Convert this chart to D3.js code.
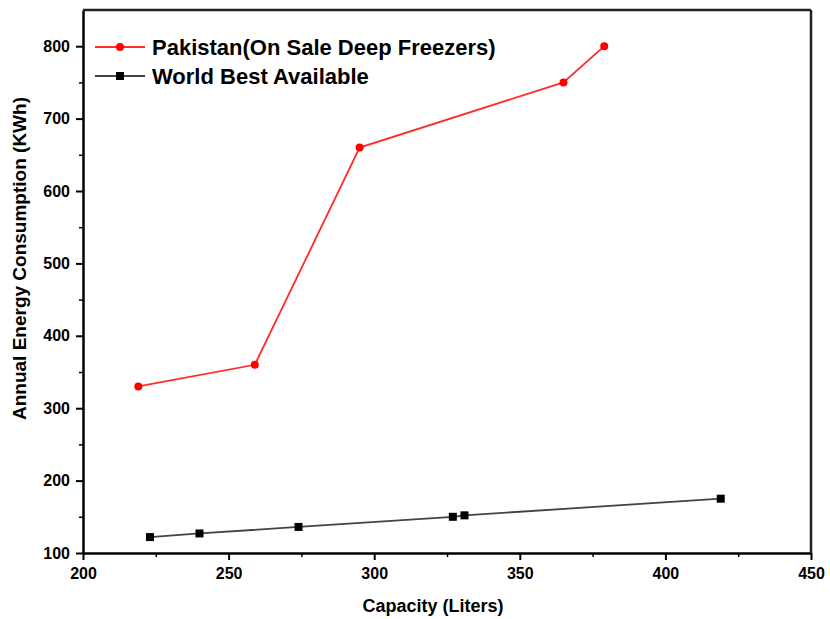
<!DOCTYPE html>
<html>
<head>
<meta charset="utf-8">
<script src="https://cdn.jsdelivr.net/npm/d3@7"></script>
<style>
  body { margin: 0; background: #fff; }
  svg text { font-family: "Liberation Sans", Arial, sans-serif; font-weight: bold; fill: #000; }
</style>
</head>
<body>
<svg id="viz"></svg>
<script>
// data
var pakCapacity = [219, 259, 295, 365, 379];
var pakEnergy = [330, 360, 660, 750, 800];
var bestCapacity = [223, 240, 274, 327, 331, 419];
var bestEnergy = [122, 127, 136, 150, 152, 175];
var seriesNames = ['Pakistan(On Sale Deep Freezers)', 'World Best Available'];
var xTicks = [200, 250, 300, 350, 400, 450];
var yTicks = [100, 200, 300, 400, 500, 600, 700, 800];

var width = 830, height = 619;
var margin = {top: 10, right: 19, bottom: 66, left: 83};
var drawWidth = width - margin.left - margin.right;
var drawHeight = height - margin.top - margin.bottom;

var svg = d3.select('#viz').attr('width', width).attr('height', height);
var g = svg.append('g').attr('transform', `translate(${margin.left}, ${margin.top})`);

var xScale = d3.scaleLinear().domain([200, 450]).range([0, drawWidth]);
var yScale = d3.scaleLinear().domain([100, 850]).range([drawHeight, 0]);

// minor ticks
var xMinor = d3.range(225, 450, 50);
var yMinor = d3.range(150, 850, 100);
g.append('g').attr('transform', `translate(0, ${drawHeight})`)
  .call(d3.axisBottom(xScale).tickValues(xMinor).tickSize(4).tickFormat(''))
  .call(a => a.select('.domain').remove())
  .selectAll('line').attr('stroke-width', 1.5);
g.append('g')
  .call(d3.axisLeft(yScale).tickValues(yMinor).tickSize(4).tickFormat(''))
  .call(a => a.select('.domain').remove())
  .selectAll('line').attr('stroke-width', 1.5);

// major axes
var xAxis = g.append('g').attr('transform', `translate(0, ${drawHeight})`)
  .call(d3.axisBottom(xScale).tickValues(xTicks).tickSize(7).tickSizeOuter(0).tickPadding(8));
var yAxis = g.append('g')
  .call(d3.axisLeft(yScale).tickValues(yTicks).tickSize(7).tickSizeOuter(0).tickPadding(6));
[xAxis, yAxis].forEach(function(a) {
  a.selectAll('text').style('font-size', '16px');
  a.selectAll('line').attr('stroke-width', 2);
  a.select('.domain').attr('stroke-width', 2.5);
});

// top and right frame
g.append('line').attr('x1', 0).attr('x2', drawWidth).attr('y1', 0).attr('y2', 0)
  .attr('stroke', '#222').attr('stroke-width', 2.5);
g.append('line').attr('x1', drawWidth).attr('x2', drawWidth).attr('y1', 0).attr('y2', drawHeight)
  .attr('stroke', '#222').attr('stroke-width', 2.5);

// axis titles
svg.append('text').attr('x', margin.left + drawWidth / 2 - 14).attr('y', 612)
  .attr('text-anchor', 'middle').style('font-size', '18px').text('Capacity (Liters)');
svg.append('text').attr('transform', `translate(26, ${margin.top + drawHeight / 2 - 23}) rotate(-90)`)
  .attr('text-anchor', 'middle').style('font-size', '19px').text('Annual Energy Consumption (KWh)');

var line = d3.line().x(d => xScale(d[0])).y(d => yScale(d[1]));

var pak = pakCapacity.map((c, i) => [c, pakEnergy[i]]);
var best = bestCapacity.map((c, i) => [c, bestEnergy[i]]);

g.append('path').datum(best).attr('d', line)
  .attr('fill', 'none').attr('stroke', '#444').attr('stroke-width', 1.8);
g.selectAll('.sq').data(best).enter().append('rect')
  .attr('x', d => xScale(d[0]) - 4).attr('y', d => yScale(d[1]) - 4)
  .attr('width', 8).attr('height', 8).attr('fill', '#000');

g.append('path').datum(pak).attr('d', line)
  .attr('fill', 'none').attr('stroke', '#ff2a2a').attr('stroke-width', 1.8);
g.selectAll('.dot').data(pak).enter().append('circle')
  .attr('cx', d => xScale(d[0])).attr('cy', d => yScale(d[1]))
  .attr('r', 4).attr('fill', '#ff0000');

// legend
var legend = svg.append('g').attr('transform', 'translate(95, 47)');
legend.append('line').attr('x1', 0).attr('x2', 50).attr('y1', 0).attr('y2', 0)
  .attr('stroke', '#ff2a2a').attr('stroke-width', 1.8);
legend.append('circle').attr('cx', 25).attr('cy', 0).attr('r', 4).attr('fill', '#ff0000');
legend.append('text').attr('x', 57).attr('y', 8).style('font-size', '22px').text(seriesNames[0]);
legend.append('line').attr('x1', 0).attr('x2', 50).attr('y1', 29).attr('y2', 29)
  .attr('stroke', '#444').attr('stroke-width', 1.8);
legend.append('rect').attr('x', 21).attr('y', 25).attr('width', 8).attr('height', 8).attr('fill', '#000');
legend.append('text').attr('x', 57).attr('y', 37).style('font-size', '22px').text(seriesNames[1]);
</script>
</body>
</html>
